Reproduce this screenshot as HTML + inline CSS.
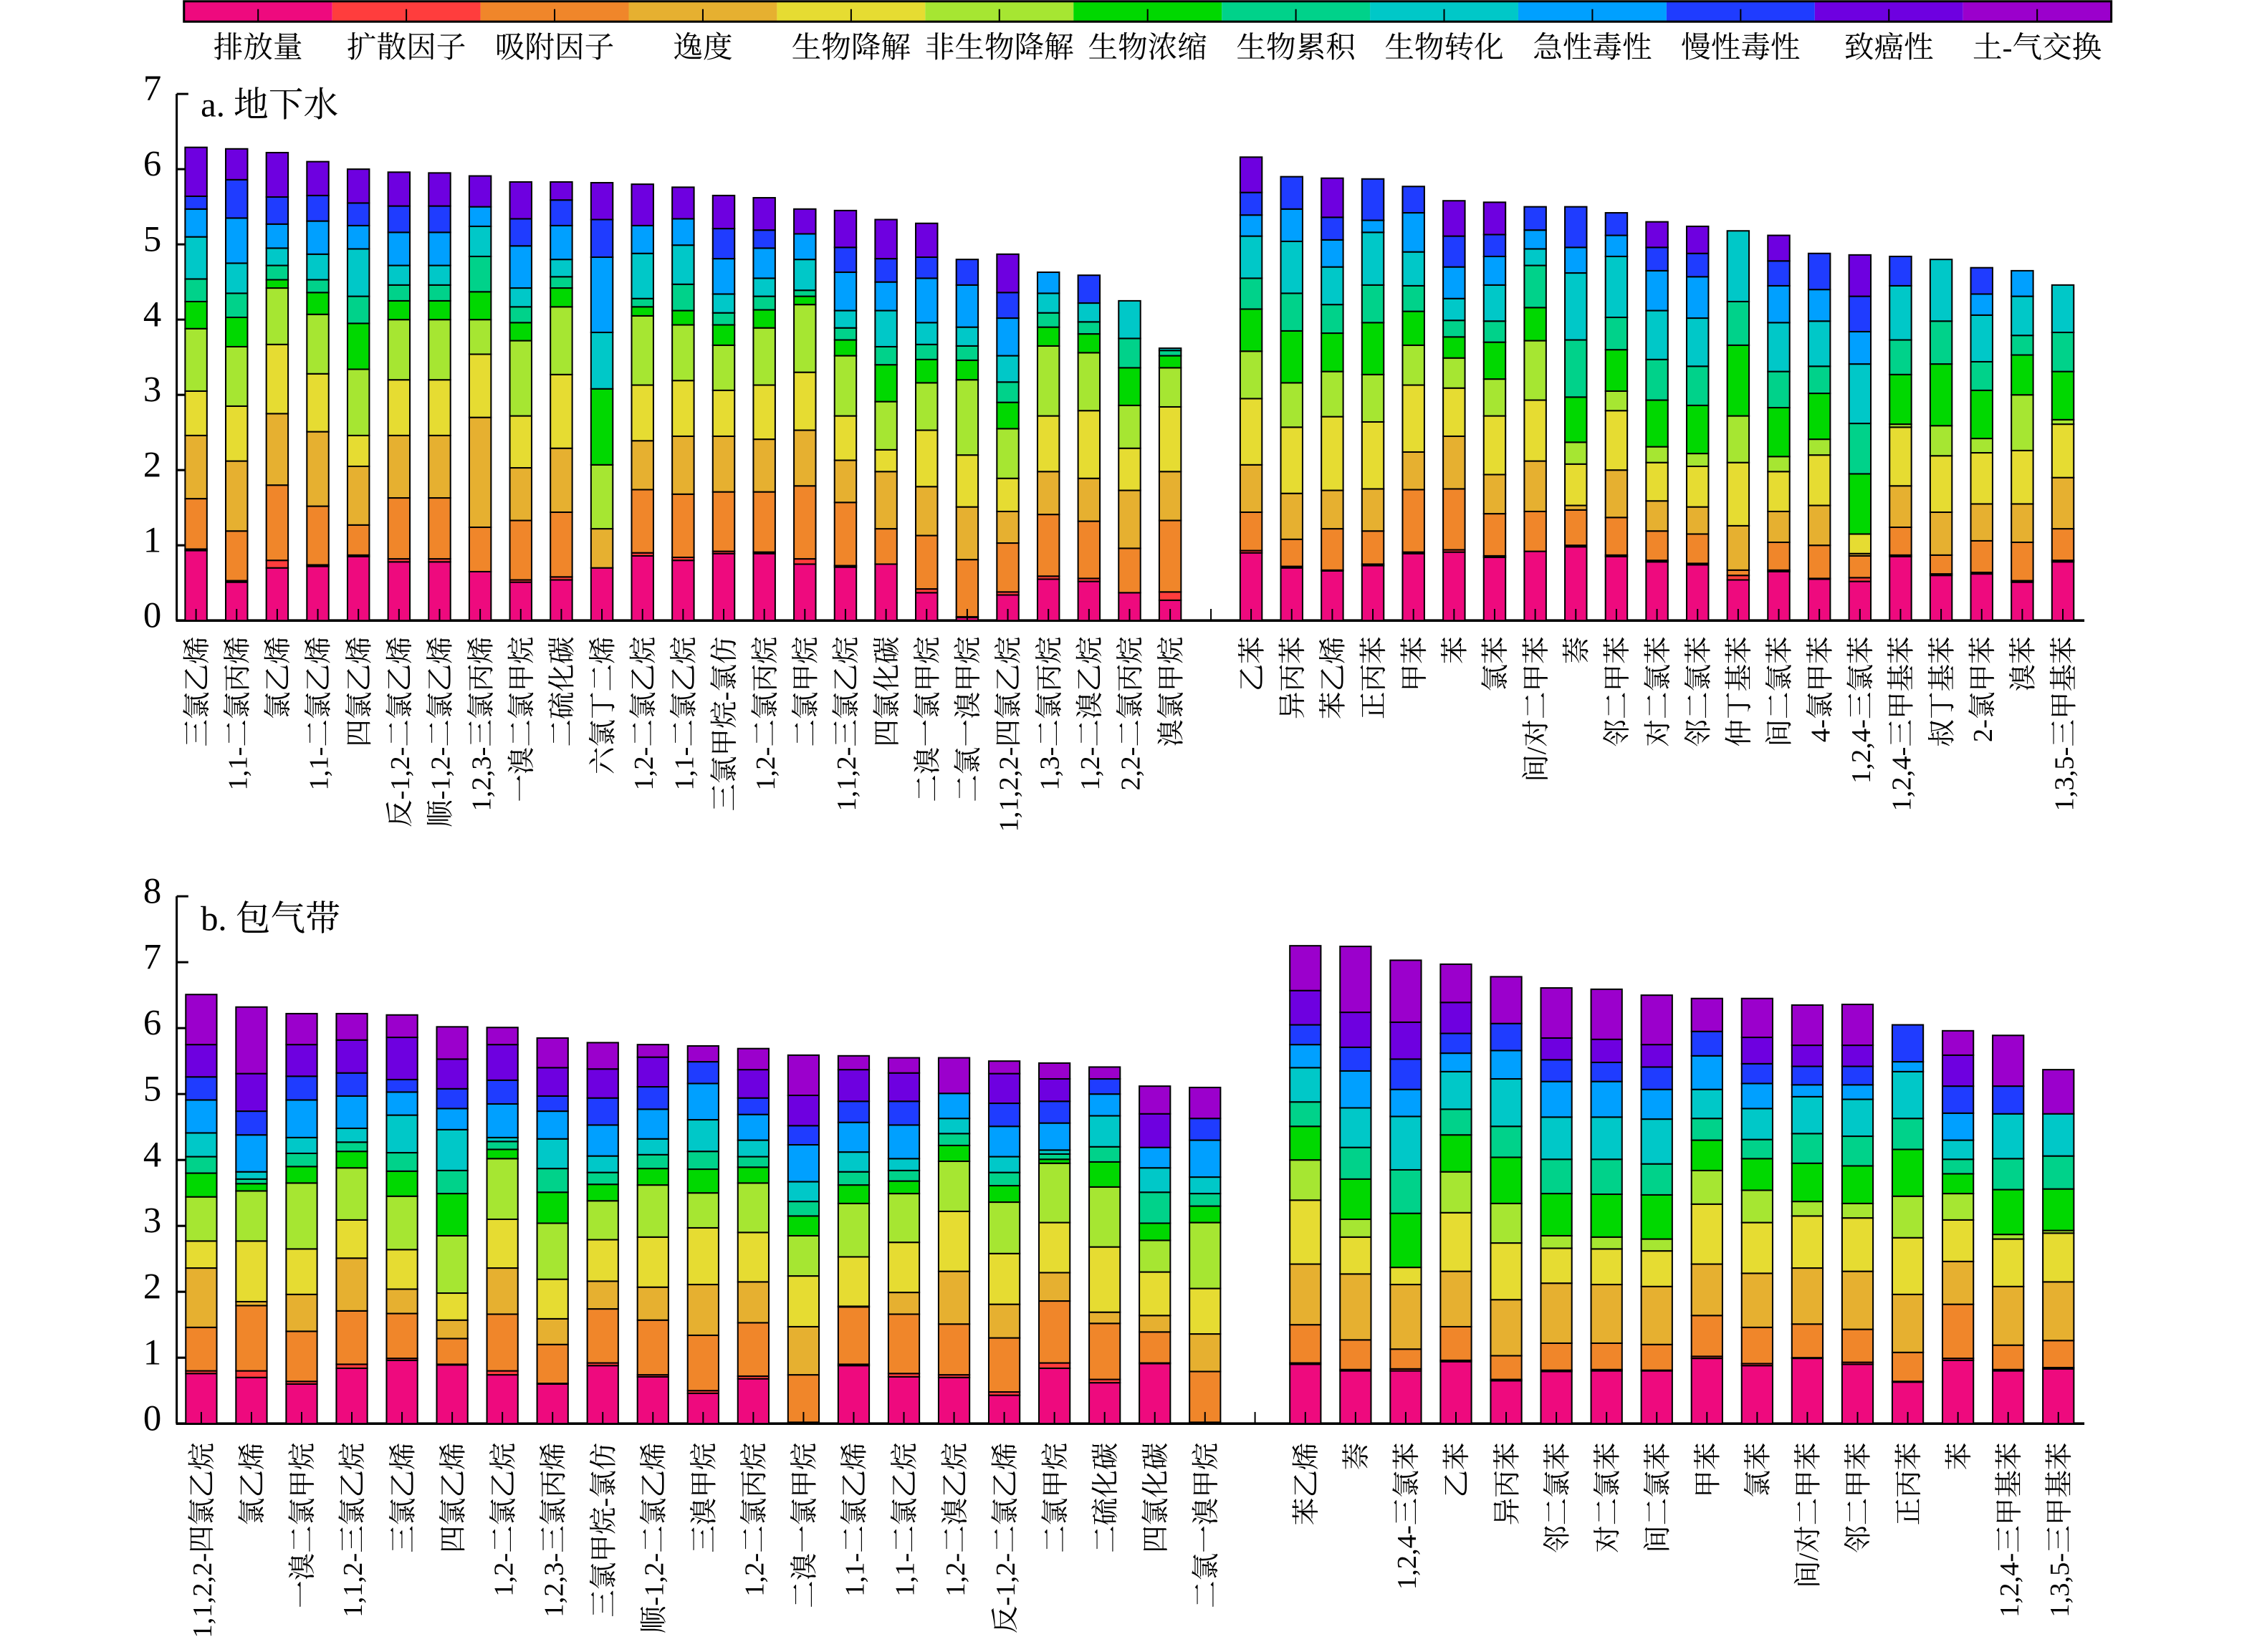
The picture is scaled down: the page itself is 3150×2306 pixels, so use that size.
<!DOCTYPE html>
<html><head><meta charset="utf-8"><style>
html,body{margin:0;padding:0;background:#fff;}
svg{display:block;}
text{font-family:"Liberation Serif","Noto Serif CJK SC","Noto Sans CJK SC",serif;fill:#000;}
</style></head><body>
<svg id="c" xmlns="http://www.w3.org/2000/svg" width="3150" height="2306" viewBox="0 0 1552 1136">
<rect x="0" y="0" width="1552" height="1136" fill="#fff"/>
<g id="g"></g>
<text x="138" y="80" font-size="24">a. 地下水</text>
<text x="138" y="639.6" font-size="24">b. 包气带</text>
</svg>
<script>
var C=["#ee0a7e","#ff3d3d","#f0862a","#e6b030","#e6dc32","#a6e632","#00d800","#00d28a","#00c8c8","#00a0ff","#1f3cff","#6e00e0","#9b00cc"];
var LN=["排放量","扩散因子","吸附因子","逸度","生物降解","非生物降解","生物浓缩","生物累积","生物转化","急性毒性","慢性毒性","致癌性","土-气交换"];
var NS="http://www.w3.org/2000/svg",G=document.getElementById("g");
function el(t,a,txt){var e=document.createElementNS(NS,t);for(var k in a)e.setAttribute(k,a[k]);if(txt!=null)e.textContent=txt;G.appendChild(e);return e;}
// legend
var L0=126.5,L1=1451.8,cw=(L1-L0)/13;
for(var i=0;i<13;i++){el("rect",{x:L0+i*cw,y:0.8,width:cw,height:14,fill:C[i]});
el("line",{x1:L0+(i+0.5)*cw,y1:6.2,x2:L0+(i+0.5)*cw,y2:14.8,stroke:"#000","stroke-width":1});
el("text",{x:L0+(i+0.5)*cw,y:39.4,"font-size":20.5,"text-anchor":"middle"},LN[i]);}
el("rect",{x:L0,y:0.8,width:L1-L0,height:14,fill:"none",stroke:"#000","stroke-width":1.5});

var aL=[[.93,.95,1.62,2.46,3.05,3.88,4.24,4.54,5.1,5.47,5.64,6.29],[.51,.53,1.19,2.12,2.85,3.64,4.03,4.35,4.75,5.35,5.86,6.27],[.70,.80,1.80,2.75,3.67,4.42,4.53,4.72,4.95,5.27,5.63,6.22],[.72,.74,1.52,2.51,3.28,4.07,4.36,4.53,4.87,5.31,5.65,6.10],[.85,.87,1.27,2.05,2.46,3.34,3.95,4.31,4.94,5.25,5.55,6.0],[.78,.82,1.63,2.46,3.2,4.0,4.25,4.46,4.72,5.16,5.51,5.96],[.78,.82,1.63,2.46,3.2,4.0,4.25,4.46,4.72,5.16,5.51,5.95],[.65,.65,1.24,2.7,3.54,4.0,4.37,4.84,5.24,5.5,5.5,5.91],[.51,.54,1.33,2.03,2.72,3.72,3.96,4.17,4.42,4.98,5.34,5.83],[.54,.58,1.44,2.29,3.27,4.17,4.42,4.57,4.8,5.25,5.59,5.83],[.7,.7,.7,1.22,1.22,2.07,3.08,3.08,3.83,4.83,5.33,5.82],[.86,.9,1.74,2.39,3.13,4.05,4.17,4.28,4.88,5.25,5.25,5.8],[.8,.84,1.68,2.45,3.19,3.93,4.12,4.47,4.99,5.34,5.34,5.76],[.89,.92,1.71,2.45,3.06,3.66,3.93,4.09,4.34,4.81,5.21,5.65],[.89,.91,1.71,2.41,3.13,3.89,4.13,4.31,4.55,4.95,5.19,5.62],[.75,.82,1.79,2.53,3.3,4.2,4.31,4.39,4.8,5.14,5.14,5.47],[.71,.73,1.57,2.13,2.72,3.52,3.73,3.89,4.12,4.63,4.96,5.45],[.75,.75,1.22,1.98,2.27,2.91,3.4,3.64,4.12,4.5,4.81,5.33],[.37,.42,1.13,1.78,2.53,3.16,3.47,3.67,3.96,4.55,4.83,5.28],[.04,.05,.81,1.51,2.2,3.2,3.46,3.65,3.9,4.46,4.8,4.8],[.34,.38,1.03,1.45,1.89,2.55,2.9,3.17,3.52,4.02,4.36,4.87],[.55,.59,1.41,1.98,2.72,3.65,3.9,4.09,4.35,4.63],[.52,.56,1.32,1.89,2.79,3.56,3.81,3.97,4.22,4.22,4.59],[.37,.37,.96,1.73,2.29,2.86,3.36,3.75,4.25],[.27,.38,1.33,1.98,2.84,3.36,3.52,3.59,3.62]];
var aLn=["三氯乙烯","1,1-二氯丙烯","氯乙烯","1,1-二氯乙烯","四氯乙烯","反-1,2-二氯乙烯","顺-1,2-二氯乙烯","1,2,3-三氯丙烯","一溴二氯甲烷","二硫化碳","六氯丁二烯","1,2-二氯乙烷","1,1-二氯乙烷","三氯甲烷-氯仿","1,2-二氯丙烷","二氯甲烷","1,1,2-三氯乙烷","四氯化碳","二溴一氯甲烷","二氯一溴甲烷","1,1,2,2-四氯乙烷","1,3-二氯丙烷","1,2-二溴乙烷","2,2-二氯丙烷","溴氯甲烷"];
var aR=[[.9,.93,1.44,2.07,2.95,3.58,4.14,4.55,5.11,5.39,5.69,6.16],[.7,.72,1.08,1.69,2.57,3.16,3.85,4.35,5.04,5.47,5.9],[.66,.67,1.22,1.73,2.71,3.31,3.82,4.2,4.7,5.06,5.36,5.88],[.73,.75,1.19,1.75,2.64,3.27,3.96,4.46,5.16,5.32,5.87],[.89,.91,1.74,2.24,3.13,3.66,4.11,4.45,4.9,5.42,5.77],[.91,.94,1.75,2.45,3.09,3.49,3.77,3.99,4.28,4.7,5.11,5.58],[.84,.86,1.42,1.94,2.72,3.21,3.7,3.98,4.46,4.84,5.13,5.56],[.92,.92,1.45,2.12,2.93,3.72,4.16,4.72,4.94,5.19,5.5],[.98,1.0,1.47,1.53,2.08,2.37,2.97,3.73,4.62,4.96,5.5],[.85,.87,1.37,2.0,2.79,3.05,3.6,4.03,4.84,5.12,5.42],[.78,.8,1.19,1.59,2.1,2.31,2.93,3.47,4.12,4.65,4.96,5.3],[.74,.76,1.15,1.51,2.05,2.22,2.86,3.38,4.02,4.57,4.88,5.24],[.54,.6,.67,1.26,2.1,2.72,3.66,4.24,5.18],[.65,.67,1.04,1.45,1.98,2.18,2.83,3.31,3.96,4.45,4.78,5.12],[.55,.56,1.0,1.53,2.2,2.41,3.02,3.38,3.98,4.4,4.88],[.52,.57,.86,.89,1.15,1.15,1.95,2.62,3.41,3.84,4.31,4.86],[.85,.87,1.24,1.79,2.57,2.61,3.27,3.73,4.45,4.45,4.84],[.6,.62,.87,1.44,2.19,2.59,3.41,3.98,4.8],[.62,.64,1.06,1.55,2.23,2.42,3.06,3.44,4.06,4.34,4.69],[.51,.53,1.04,1.55,2.26,3.0,3.53,3.79,4.31,4.65],[.78,.8,1.22,1.9,2.61,2.67,3.31,3.83,4.46]];
var aRn=["乙苯","异丙苯","苯乙烯","正丙苯","甲苯","苯","氯苯","间/对二甲苯","萘","邻二甲苯","对二氯苯","邻二氯苯","仲丁基苯","间二氯苯","4-氯甲苯","1,2,4-三氯苯","1,2,4-三甲基苯","叔丁基苯","2-氯甲苯","溴苯","1,3,5-三甲基苯"];
var bL=[[.76,.8,1.46,2.36,2.77,3.44,3.8,4.05,4.41,4.91,5.26,5.75,6.51],[.7,.8,1.79,1.85,2.77,3.53,3.64,3.71,3.82,4.38,4.74,5.31,6.32],[.6,.64,1.4,1.96,2.65,3.65,3.9,4.1,4.34,4.91,5.27,5.75,6.22],[.84,.9,1.71,2.51,3.09,3.88,4.13,4.27,4.48,4.97,5.32,5.82,6.22],[.96,.99,1.67,2.04,2.64,3.45,3.83,4.11,4.68,5.03,5.22,5.86,6.2],[.89,.9,1.29,1.57,1.98,2.85,3.49,3.84,4.46,4.78,5.08,5.53,6.02],[.74,.8,1.66,2.36,3.1,4.02,4.16,4.28,4.34,4.85,5.21,5.75,6.01],[.6,.61,1.2,1.59,2.19,3.04,3.51,3.87,4.32,4.74,4.97,5.4,5.85],[.88,.92,1.74,2.16,2.79,3.38,3.63,3.81,4.06,4.53,4.94,5.38,5.78],[.71,.74,1.57,2.07,2.83,3.62,3.87,4.08,4.32,4.77,5.11,5.56,5.75],[.46,.5,1.34,2.11,2.97,3.5,3.86,4.13,4.61,5.16,5.49,5.49,5.73],[.68,.72,1.53,2.15,2.9,3.65,3.89,4.05,4.3,4.69,4.94,5.37,5.69],[.02,.02,.74,1.47,2.24,2.85,3.15,3.37,3.67,4.23,4.52,4.98,5.59],[.88,.9,1.77,1.78,2.53,3.34,3.62,3.82,4.12,4.57,4.89,5.37,5.58],[.71,.76,1.66,1.99,2.75,3.49,3.68,3.84,4.02,4.53,4.89,5.32,5.55],[.7,.74,1.51,2.31,3.22,3.98,4.22,4.4,4.63,5.01,5.01,5.01,5.55],[.43,.48,1.3,1.81,2.58,3.36,3.61,3.81,4.05,4.51,4.86,5.31,5.5],[.84,.92,1.86,2.29,3.05,3.95,4.01,4.09,4.15,4.56,4.89,5.23,5.47],[.62,.67,1.52,1.69,2.68,3.59,3.97,4.2,4.67,5.0,5.23,5.23,5.41],[.91,.92,1.39,1.64,2.3,2.78,3.04,3.51,3.88,4.19,4.19,4.7,5.12],[.02,.02,.79,1.36,2.05,3.05,3.3,3.49,3.74,4.3,4.63,4.63,5.1]];
var bLn=["1,1,2,2-四氯乙烷","氯乙烯","一溴二氯甲烷","1,1,2-三氯乙烷","三氯乙烯","四氯乙烯","1,2-二氯乙烷","1,2,3-三氯丙烯","三氯甲烷-氯仿","顺-1,2-二氯乙烯","三溴甲烷","1,2-二氯丙烷","二溴一氯甲烷","1,1-二氯乙烯","1,1-二氯乙烷","1,2-二溴乙烷","反-1,2-二氯乙烯","二氯甲烷","二硫化碳","四氯化碳","二氯一溴甲烷"];
var bR=[[.9,.92,1.5,2.42,3.39,4.0,4.51,4.88,5.4,5.75,6.05,6.57,7.25],[.8,.82,1.27,2.27,2.83,3.1,3.71,4.19,4.79,5.35,5.71,6.24,7.24],[.8,.83,1.13,2.11,2.37,2.37,3.19,3.85,4.66,5.07,5.53,6.09,7.03],[.94,.96,1.47,2.31,3.2,3.82,4.38,4.77,5.34,5.62,5.92,6.39,6.97],[.65,.67,1.03,1.88,2.74,3.34,4.04,4.51,5.23,5.66,6.07,6.07,6.78],[.79,.81,1.22,2.13,2.66,2.85,3.49,4.01,4.65,5.19,5.52,5.85,6.61],[.8,.82,1.22,2.11,2.65,2.83,3.48,4.01,4.65,5.19,5.48,5.83,6.59],[.8,.81,1.2,2.08,2.62,2.8,3.47,3.94,4.62,5.07,5.41,5.75,6.5],[.99,1.02,1.64,2.42,3.33,3.84,4.3,4.63,5.07,5.58,5.95,5.95,6.45],[.88,.91,1.46,2.28,3.05,3.54,4.02,4.31,4.78,5.16,5.46,5.86,6.45],[.99,1.0,1.51,2.36,3.15,3.37,3.95,4.4,4.96,5.14,5.42,5.74,6.35],[.9,.93,1.43,2.31,3.12,3.34,3.91,4.36,4.92,5.14,5.42,5.74,6.36],[.63,.64,1.08,1.96,2.82,3.45,4.16,4.63,5.34,5.49,6.05,6.05,6.05],[.96,.99,1.81,2.46,3.09,3.49,3.79,4.01,4.3,4.71,5.12,5.59,5.96],[.8,.82,1.19,2.08,2.8,2.87,3.55,4.02,4.7,4.7,5.12,5.12,5.89],[.83,.85,1.26,2.15,2.89,2.93,3.56,4.06,4.7,4.7,4.7,4.7,5.37]];
var bRn=["苯乙烯","萘","1,2,4-三氯苯","乙苯","异丙苯","邻二氯苯","对二氯苯","间二氯苯","甲苯","氯苯","间/对二甲苯","邻二甲苯","正丙苯","苯","1,2,4-三甲基苯","1,3,5-三甲基苯"];

function bars(data,names,c0,pitch,w,y0,su,ly){
 for(var i=0;i<data.length;i++){
  var d=data[i],cx=c0+i*pitch,x=cx-w/2,prev=0;
  for(var k=0;k<d.length;k++){var v=d[k];if(v>prev+0.001){
    el("rect",{x:x,y:y0-v*su,width:w,height:(v-prev)*su,fill:C[k],stroke:"#000","stroke-width":1});}
    if(v>prev)prev=v;}
  el("line",{x1:cx,y1:y0,x2:cx,y2:y0-8,stroke:"#000","stroke-width":1});
  el("text",{transform:"translate("+(cx+7)+","+ly+") rotate(-90)","font-size":19,"text-anchor":"end"},names[i]);
 }
}
function axes(y0,su,max,gapx){
 el("line",{x1:121,y1:y0,x2:1433.3,y2:y0,stroke:"#000","stroke-width":1.8});
 el("line",{x1:121.5,y1:y0,x2:121.5,y2:y0-max*su,stroke:"#000","stroke-width":1.5});
 for(var t=0;t<=max;t++){var y=y0-t*su;
  el("line",{x1:121.5,y1:y,x2:129.5,y2:y,stroke:"#000","stroke-width":1.5});
  el("text",{x:111,y:y+4.5,"font-size":25,"text-anchor":"end"},String(t));}
 el("line",{x1:gapx,y1:y0,x2:gapx,y2:y0-8,stroke:"#000","stroke-width":1});
}
axes(426.7,51.74,7,832.7);
bars(aL,aLn,134.8,27.91,15,426.7,51.74,437.6);
bars(aR,aRn,860.3,27.91,15,426.7,51.74,437.6);
axes(979,45.33,8,863);
bars(bL,bLn,138.4,34.51,21.3,979,45.33,992);
bars(bR,bRn,897.6,34.52,21.3,979,45.33,992);
</script>
</body></html>
